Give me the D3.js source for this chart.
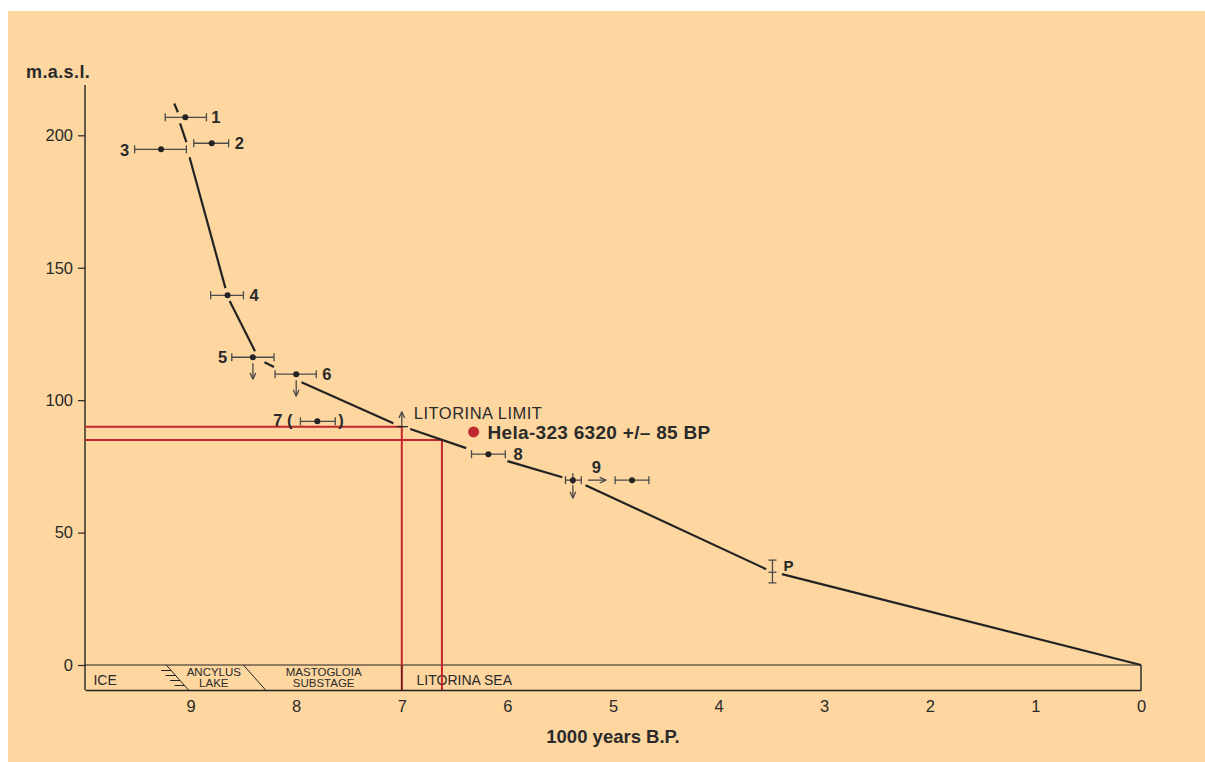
<!DOCTYPE html>
<html>
<head>
<meta charset="utf-8">
<script src="https://cdn.jsdelivr.net/npm/d3@7/dist/d3.min.js"></script>
<style>
  html, body { margin: 0; padding: 0; background: #ffffff; }
  svg { display: block; }
  text { font-family: "Liberation Sans", Arial, sans-serif; fill: #2a2a2a; }
</style>
</head>
<body>
<svg id="chart" width="1205" height="762"></svg>
<script>
// Shore displacement: dated samples (age in 1000 years B.P., elevation in m a.s.l.)
const sampleIds  = ["1", "2", "3", "4", "5", "6", "7", "8", "9a", "9b"];
const sampleAge  = [9.05, 8.80, 9.28, 8.65, 8.41, 8.00, 7.80, 6.18, 5.38, 4.82];
const ageOlder   = [9.24, 8.97, 9.53, 8.81, 8.61, 8.20, 7.96, 6.34, 5.45, 4.98];
const ageYounger = [8.85, 8.64, 9.04, 8.50, 8.21, 7.81, 7.63, 6.02, 5.30, 4.66];
const sampleElev = [206.8, 197.0, 194.7, 139.6, 116.2, 109.8, 92.0, 79.6, 69.8, 69.8];
// samples known to lie above the shoreline of their time (arrow down)
const maxLimitIds = ["5", "6", "9a"];

// Sample P: elevation range
const pAge = 3.49, pElev = 35.0, pElevLow = 31.0, pElevHigh = 39.6;

// Shoreline curve, drawn as broken pieces [age, elevation]
const curvePieces = [
  [[9.155, 212.0], [9.12, 208.7]],
  [[9.10, 204.5], [9.04, 197.4]],
  [[9.01, 191.7], [8.67, 142.3]],
  [[8.63, 137.4], [8.39, 118.5]],
  [[8.30, 114.3], [8.21, 112.5]],
  [[7.95, 106.8], [7.08, 91.3]],
  [[6.92, 89.1], [6.39, 81.9]],
  [[6.00, 77.0], [5.48, 70.9]],
  [[5.26, 67.9], [3.55, 36.2]],
  [[3.40, 34.3], [0.00, 0.0]]
];

// Litorina limit and the Hela-323 date
const litorinaAge = 7.0, litorinaElev = 90;
const helaAge = 6.32, helaElev = 88, helaLineElev = 85, helaLineAge = 6.62;
const helaLabel = "Hela-323 6320 +/\u2013 85 BP";

// Axis ticks
const xTicks = [9, 8, 7, 6, 5, 4, 3, 2, 1, 0];
const yTicks = [0, 50, 100, 150, 200];

// Stage boundaries along the bottom band (age)
const stageDividers = [[9.23, 9.02], [8.50, 8.29]];
const stageLabels = [
  { lines: ["ICE"], age: 9.92, anchor: "start" },
  { lines: ["ANCYLUS", "LAKE"], age: 8.78, anchor: "middle" },
  { lines: ["MASTOGLOIA", "SUBSTAGE"], age: 7.74, anchor: "middle" },
  { lines: ["LITORINA SEA"], age: 6.86, anchor: "start" }
];

const svg = d3.select("#chart");
const W = 1205, H = 762;
const ink = "#232323", grey = "#4a4a4a", red = "#c1272d";

// background panel
svg.append("rect").attr("x", 8).attr("y", 11).attr("width", W - 8).attr("height", H - 11)
  .attr("fill", "#fdd6a0");

const x = d3.scaleLinear().domain([10, 0]).range([85, 1141]);
const y = d3.scaleLinear().domain([0, 219]).range([665, 85]);
const bandBottom = 690;

// ---- axes ----
const yAxis = d3.axisLeft(y).tickValues(yTicks).tickSize(7).tickPadding(5);
const gy = svg.append("g").attr("transform", `translate(${x(10)},0)`).call(yAxis);
gy.select(".domain").attr("d", `M0,${y.range()[1]}V${bandBottom}`).attr("stroke", ink).attr("stroke-width", 1.4);
gy.selectAll(".tick line").attr("stroke", ink).attr("stroke-width", 1.2);
gy.selectAll(".tick text").attr("font-size", 16.5).attr("fill", "#333")
  .attr("font-family", "Liberation Sans, Arial, sans-serif");

const xAxis = d3.axisBottom(x).tickValues(xTicks).tickSize(0).tickPadding(10);
const gx = svg.append("g").attr("transform", `translate(0,${bandBottom})`).call(xAxis);
gx.select(".domain").attr("stroke", ink).attr("stroke-width", 1.4);
gx.selectAll(".tick text").attr("font-size", 16.5).attr("fill", "#333")
  .attr("font-family", "Liberation Sans, Arial, sans-serif");

// bottom band: zero line and right edge
svg.append("line").attr("x1", x(10)).attr("x2", x(0)).attr("y1", y(0)).attr("y2", y(0))
  .attr("stroke", ink).attr("stroke-width", 1.2);
svg.append("line").attr("x1", x(0)).attr("x2", x(0)).attr("y1", y(0)).attr("y2", bandBottom)
  .attr("stroke", ink).attr("stroke-width", 1.4);

// stage dividers
stageDividers.forEach(d => {
  svg.append("line").attr("x1", x(d[0])).attr("x2", x(d[1])).attr("y1", y(0)).attr("y2", bandBottom)
    .attr("stroke", ink).attr("stroke-width", 1);
});
// shore hatching next to the Ancylus boundary
const hatch = stageDividers[0];
[0.22, 0.42, 0.62, 0.82].forEach(f => {
  const yy = y(0) + f * (bandBottom - y(0));
  const xx = x(hatch[0]) + f * (x(hatch[1]) - x(hatch[0]));
  svg.append("line").attr("x1", xx - 10).attr("x2", xx).attr("y1", yy).attr("y2", yy)
    .attr("stroke", ink).attr("stroke-width", 1);
});

stageLabels.forEach(s => {
  const t = svg.append("text").attr("text-anchor", s.anchor)
    .attr("font-size", s.lines.length > 1 ? 11.5 : 14).attr("fill", "#333");
  if (s.lines.length === 1) {
    t.append("tspan").attr("x", x(s.age)).attr("y", 684.5).text(s.lines[0]);
  } else {
    s.lines.forEach((l, i) => t.append("tspan").attr("x", x(s.age)).attr("y", 675.5 + i * 11.5).text(l));
  }
});

// ---- red reference lines for Hela-323 ----
const redG = svg.append("g").attr("stroke", red).attr("stroke-width", 2).attr("fill", "none");
redG.append("line").attr("x1", x(10)).attr("x2", x(litorinaAge)).attr("y1", y(litorinaElev)).attr("y2", y(litorinaElev));
redG.append("line").attr("x1", x(litorinaAge)).attr("x2", x(litorinaAge)).attr("y1", y(litorinaElev)).attr("y2", bandBottom);
redG.append("line").attr("x1", x(10)).attr("x2", x(helaLineAge)).attr("y1", y(helaLineElev)).attr("y2", y(helaLineElev));
redG.append("line").attr("x1", x(helaLineAge)).attr("x2", x(helaLineAge)).attr("y1", y(helaLineElev)).attr("y2", bandBottom);
// Litorina boundary inside the band
svg.append("line").attr("x1", x(litorinaAge)).attr("x2", x(litorinaAge)).attr("y1", y(0)).attr("y2", bandBottom)
  .attr("stroke", "#5a1a1a").attr("stroke-width", 1.2);

// ---- shoreline curve ----
const line = d3.line().x(d => x(d[0])).y(d => y(d[1]));
svg.append("g").selectAll("path").data(curvePieces).join("path")
  .attr("d", line).attr("fill", "none").attr("stroke", ink).attr("stroke-width", 2.2);

// ---- error bars and samples ----
const cap = 4;
const samples = sampleIds.map((id, i) => ({
  id, age: sampleAge[i], older: ageOlder[i], younger: ageYounger[i], elev: sampleElev[i]
}));
const sg = svg.append("g").attr("stroke", grey).attr("stroke-width", 1.3);
samples.forEach(s => {
  const yy = y(s.elev);
  sg.append("line").attr("x1", x(s.older)).attr("x2", x(s.younger)).attr("y1", yy).attr("y2", yy);
  [s.older, s.younger].forEach(a =>
    sg.append("line").attr("x1", x(a)).attr("x2", x(a)).attr("y1", yy - cap).attr("y2", yy + cap));
});
svg.append("g").selectAll("circle").data(samples).join("circle")
  .attr("cx", d => x(d.age)).attr("cy", d => y(d.elev)).attr("r", 3).attr("fill", ink);

// vertical tick through sample 9a
const s9a = samples.find(d => d.id === "9a");
sg.append("line").attr("x1", x(s9a.age)).attr("x2", x(s9a.age))
  .attr("y1", y(s9a.elev) - 7).attr("y2", y(s9a.elev) + 4);

// open arrowhead helper
function arrow(g, x1, y1, x2, y2) {
  g.append("line").attr("x1", x1).attr("y1", y1).attr("x2", x2).attr("y2", y2);
  const ang = Math.atan2(y2 - y1, x2 - x1), L = 7, spread = 0.42;
  [ang + Math.PI - spread, ang + Math.PI + spread].forEach(a =>
    g.append("line").attr("x1", x2).attr("y1", y2)
      .attr("x2", x2 + L * Math.cos(a)).attr("y2", y2 + L * Math.sin(a)));
}
const ag = svg.append("g").attr("stroke", grey).attr("stroke-width", 1.3).attr("fill", "none");
maxLimitIds.forEach(id => {
  const s = samples.find(d => d.id === id);
  const yy = y(s.elev);
  arrow(ag, x(s.age), yy + (id === "9a" ? 5 : 6), x(s.age), yy + (id === "9a" ? 18 : 22));
});
// sample 9 shifted to its corrected age
const s9b = samples.find(d => d.id === "9b");
arrow(ag, x(s9a.age) + 15, y(s9a.elev), x(s9b.older) - 9, y(s9a.elev));

// Litorina limit marker
arrow(ag, x(litorinaAge), y(litorinaElev), x(litorinaAge), y(litorinaElev) - 15);
ag.append("line").attr("x1", x(litorinaAge) - 5).attr("x2", x(litorinaAge) + 6)
  .attr("y1", y(litorinaElev)).attr("y2", y(litorinaElev)).attr("stroke", ink);

// sample P: elevation range
const pg = svg.append("g").attr("stroke", grey).attr("stroke-width", 1.3);
pg.append("line").attr("x1", x(pAge)).attr("x2", x(pAge)).attr("y1", y(pElevHigh)).attr("y2", y(pElevLow));
[pElevHigh, pElevLow, pElev].forEach(v =>
  pg.append("line").attr("x1", x(pAge) - 4).attr("x2", x(pAge) + 4).attr("y1", y(v)).attr("y2", y(v)));

// ---- sample labels ----
const labelSpecs = [
  { id: "1", text: "1", dx: 26, dy: 0 },
  { id: "2", text: "2", dx: 23, dy: 0 },
  { id: "3", text: "3", dx: -41, dy: 1 },
  { id: "4", text: "4", dx: 22, dy: 0 },
  { id: "5", text: "5", dx: -35, dy: 0 },
  { id: "6", text: "6", dx: 26, dy: 0 },
  { id: "7", text: "7 (", dx: -44, dy: -1 },
  { id: "7", text: ")", dx: 21, dy: -1 },
  { id: "8", text: "8", dx: 25, dy: 0 },
  { id: "9a", text: "9", dx: 19, dy: -13 }
];
svg.append("g").selectAll("text").data(labelSpecs).join("text")
  .attr("x", d => x(samples.find(s => s.id === d.id).age) + d.dx)
  .attr("y", d => y(samples.find(s => s.id === d.id).elev) + d.dy)
  .attr("dy", "0.36em").attr("font-size", 16.5).attr("font-weight", "bold").attr("fill", ink)
  .text(d => d.text);
svg.append("text").attr("x", x(pAge) + 11).attr("y", y(pElev) - 7).attr("dy", "0.36em")
  .attr("font-size", 15).attr("font-weight", "bold").attr("fill", ink).text("P");

// Litorina limit label
svg.append("text").attr("x", x(litorinaAge) + 12).attr("y", y(litorinaElev) - 8)
  .attr("font-size", 16.5).attr("fill", "#2a2a2a").attr("letter-spacing", 0.5).text("LITORINA LIMIT");

// Hela-323 date
svg.append("circle").attr("cx", x(helaAge)).attr("cy", y(helaElev)).attr("r", 5.5).attr("fill", red);
svg.append("text").attr("x", x(helaAge) + 14).attr("y", y(helaElev)).attr("dy", "0.36em")
  .attr("font-size", 19).attr("font-weight", "bold").attr("fill", red).attr("letter-spacing", 0.3)
  .text(helaLabel);

// axis titles
svg.append("text").attr("x", 26).attr("y", 78).attr("font-size", 18).attr("font-weight", "bold")
  .attr("fill", ink).attr("letter-spacing", 0.4).text("m.a.s.l.");
svg.append("text").attr("x", 613).attr("y", 743).attr("text-anchor", "middle")
  .attr("font-size", 18.5).attr("font-weight", "bold").attr("fill", ink).text("1000 years B.P.");
</script>
</body>
</html>
